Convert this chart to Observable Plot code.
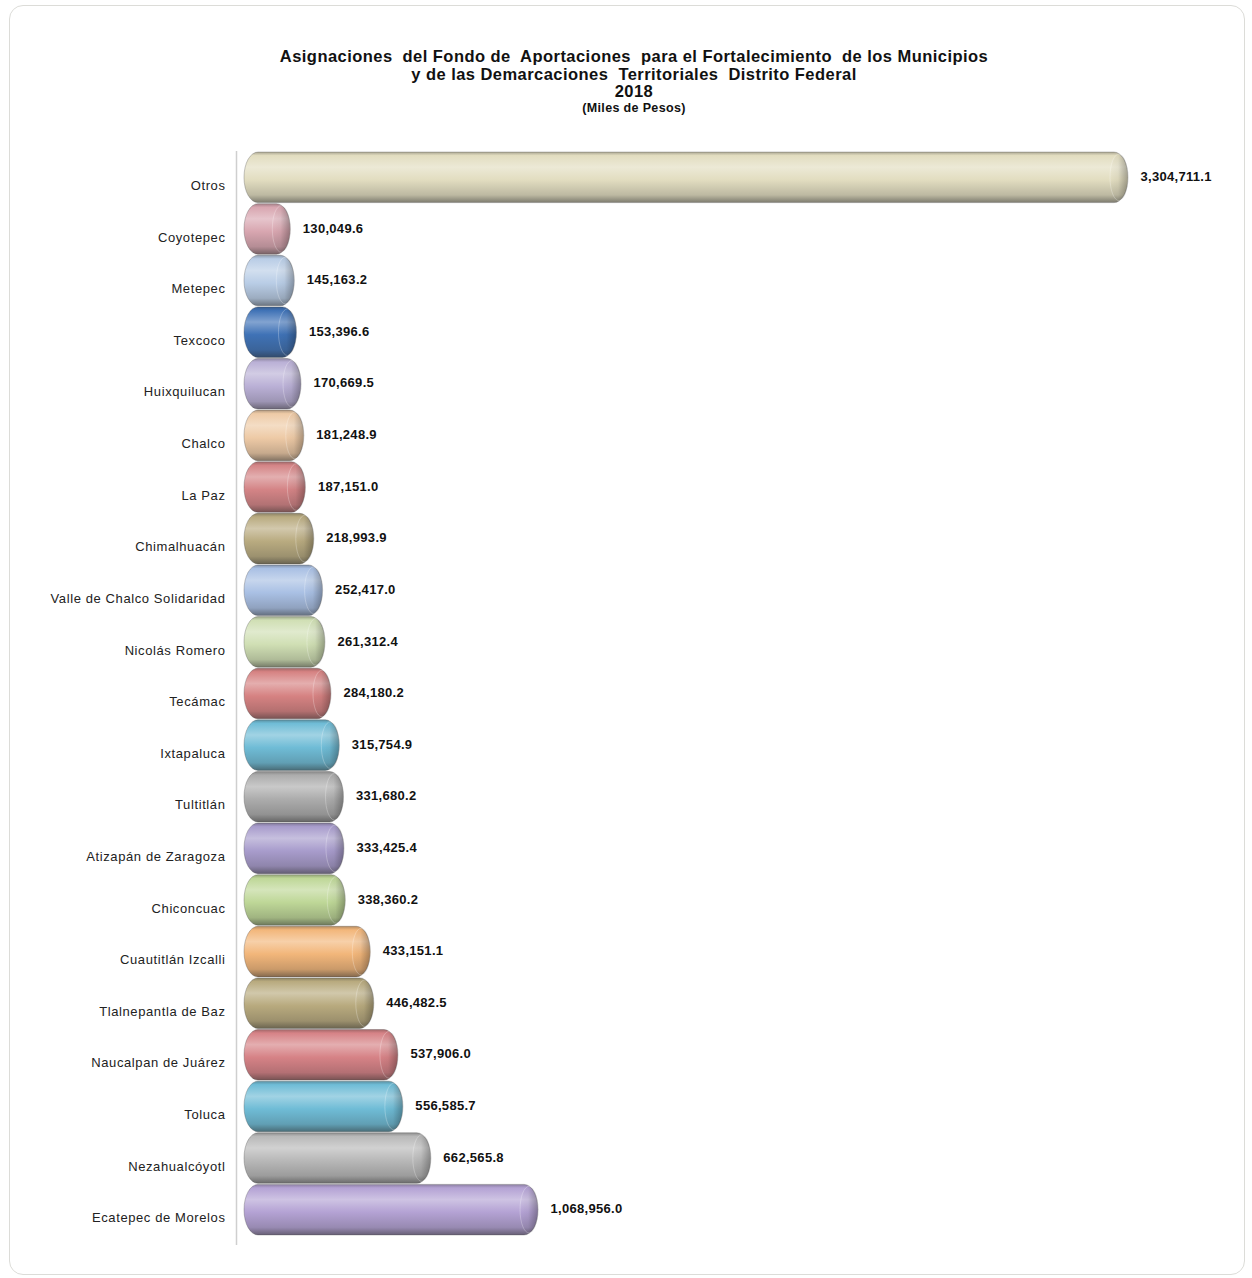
<!DOCTYPE html>
<html>
<head>
<meta charset="utf-8">
<script src="https://cdn.jsdelivr.net/npm/d3@7"></script>
<script src="https://cdn.jsdelivr.net/npm/@observablehq/plot@0.6"></script>
<style>
  body { margin: 0; background: #fff; font-family: "Liberation Sans", Arial, sans-serif; }
  #wrap { position: relative; width: 1252px; height: 1278px; overflow: hidden; }
  #frame { position: absolute; left: 9px; top: 5px; width: 1236px; height: 1270px; border: 1px solid #dcdcd8; border-radius: 14px; box-sizing: border-box; }
  #title { position: absolute; left: 16px; width: 1236px; top: 48px; text-align: center; font-weight: bold; color: #111; white-space: pre; }
  #title .l { font-size: 16.5px; line-height: 17.5px; letter-spacing: 0.45px; }
  #title .s { font-size: 12.5px; line-height: 14px; letter-spacing: 0.35px; }
  #chart { position: absolute; left: 0; top: 140px; }
</style>
</head>
<body>
<div id="wrap">
  <div id="frame"></div>
  <div id="title"><div class="l">Asignaciones  del Fondo de  Aportaciones  para el Fortalecimiento  de los Municipios</div><div class="l">y de las Demarcaciones  Territoriales  Distrito Federal</div><div class="l">2018</div><div class="s">(Miles de Pesos)</div></div>
  <div id="chart"></div>
</div>
<script>
const categories = ["Otros","Coyotepec","Metepec","Texcoco","Huixquilucan","Chalco","La Paz","Chimalhuacán","Valle de Chalco Solidaridad","Nicolás Romero","Tecámac","Ixtapaluca","Tultitlán","Atizapán de Zaragoza","Chiconcuac","Cuautitlán Izcalli","Tlalnepantla de Baz","Naucalpan de Juárez","Toluca","Nezahualcóyotl","Ecatepec de Morelos"];
const values = [3304711.1,130049.6,145163.2,153396.6,170669.5,181248.9,187151.0,218993.9,252417.0,261312.4,284180.2,315754.9,331680.2,333425.4,338360.2,433151.1,446482.5,537906.0,556585.7,662565.8,1068956.0];
const barColors = ["#e2ddc0","#d8a6b0","#b9cde6","#3f72b6","#bab0d6","#eecaa6","#d48486","#b9ab80","#a9c0e4","#d0dfb4","#d68282","#6fbcd6","#acacac","#a89ccc","#bed797","#f2b67a","#b8aa7e","#d68286","#6fbcd6","#b8b8b8","#b4a2d4"];

const data = categories.map((c, i) => ({name: c, value: values[i], fill: `url(#cyl${i})`}));
const fmt = d3.format(",.1f");

const plot = Plot.plot({
  width: 1252,
  height: 1120,
  marginLeft: 256,
  marginRight: 124,
  marginTop: 11,
  marginBottom: 24,
  x: {domain: [0, d3.max(values)], axis: null},
  y: {domain: categories, padding: 0.02, round: false, label: null},
  color: {type: "identity"},
  style: {fontFamily: "Liberation Sans, Arial, sans-serif", background: "transparent"},
  marks: [
    Plot.ruleX([0], {dx: -20, stroke: "#cfcfcf", strokeWidth: 1.5, insetBottom: -9}),
    Plot.barX(data, {y: "name", x: "value", fill: "fill", insetLeft: -12, rx: 14, ry: 25, stroke: "#444", strokeOpacity: 0.3}),
    Plot.barX(data, {y: "name", x1: "value", x2: "value", insetLeft: -18, insetTop: 2, insetBottom: 2, rx: 9, ry: 23, fill: "url(#cap)", stroke: "#fff", strokeOpacity: 0.25}),
    Plot.text(data, {y: "name", x: "value", text: d => fmt(d.value), textAnchor: "start", dx: 12, dy: -1, fontWeight: "bold", fontSize: 13, fill: "#111"}),
    Plot.axisY({tickSize: 0, tickPadding: 31, dy: 8, fontSize: 13, fill: "#222"})
  ]
});

// gradients for cylinder look
const ns = "http://www.w3.org/2000/svg";
const defs = document.createElementNS(ns, "defs");
function addGradient(id, stops, horizontal) {
  const g = document.createElementNS(ns, "linearGradient");
  g.setAttribute("id", id);
  g.setAttribute("x1", "0"); g.setAttribute("y1", "0");
  g.setAttribute("x2", horizontal ? "1" : "0"); g.setAttribute("y2", horizontal ? "0" : "1");
  for (const [o, col, op] of stops) {
    const s = document.createElementNS(ns, "stop");
    s.setAttribute("offset", o);
    s.setAttribute("stop-color", col);
    if (op != null) s.setAttribute("stop-opacity", op);
    g.appendChild(s);
  }
  defs.appendChild(g);
}
barColors.forEach((c, i) => {
  const light = d3.interpolateRgb(c, "#ffffff");
  const dark = d3.interpolateRgb(c, "#2a2a2a");
  addGradient(`cyl${i}`, [
    [0, dark(0.3)],
    [0.07, c],
    [0.3, light(0.35)],
    [0.55, c],
    [0.85, dark(0.2)],
    [1, dark(0.55)]
  ]);
});
addGradient("cap", [[0, "#000", 0], [0.45, "#000", 0.04], [1, "#000", 0.3]], true);
plot.insertBefore(defs, plot.firstChild);
plot.querySelectorAll("g[aria-label='y-axis tick label'] text").forEach(t => t.setAttribute("letter-spacing", "0.6"));
plot.querySelectorAll("g[aria-label='text'] text").forEach(t => t.setAttribute("letter-spacing", "0.3"));
document.getElementById("chart").appendChild(plot);
</script>
</body>
</html>
